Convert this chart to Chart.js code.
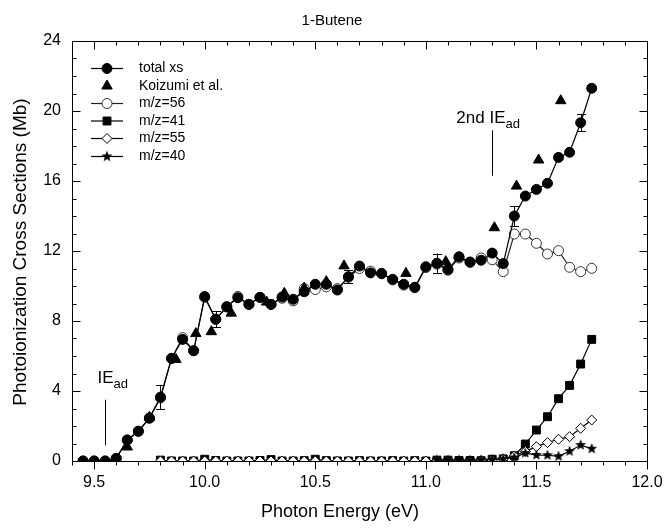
<!DOCTYPE html>
<html lang="en">
<head>
  <meta charset="UTF-8" />
  <title>1-Butene</title>
  <script src="https://cdn.jsdelivr.net/npm/chart.js"></script>
  <style>
    body { margin: 0; background: #fff; }
    canvas { display: block; }
  </style>
</head>
<body>
  <canvas id="chart" width="665" height="529"></canvas>
  <script>
    // photon energy grids (eV)
    const energyTotal = [9.45, 9.50, 9.55, 9.60, 9.65, 9.70, 9.75, 9.80, 9.85, 9.90, 9.95,
      10.00, 10.05, 10.10, 10.15, 10.20, 10.25, 10.30, 10.35, 10.40, 10.45, 10.50, 10.55,
      10.60, 10.65, 10.70, 10.75, 10.80, 10.85, 10.90, 10.95, 11.00, 11.05, 11.10, 11.15,
      11.20, 11.25, 11.30, 11.35, 11.40, 11.45, 11.50, 11.55, 11.60, 11.65, 11.70, 11.75];
    const energyFrag = [9.80, 9.85, 9.90, 9.95, 10.00, 10.05, 10.10, 10.15, 10.20, 10.25,
      10.30, 10.35, 10.40, 10.45, 10.50, 10.55, 10.60, 10.65, 10.70, 10.75, 10.80, 10.85,
      10.90, 10.95, 11.00, 11.05, 11.10, 11.15, 11.20, 11.25, 11.30, 11.35, 11.40, 11.45,
      11.50, 11.55, 11.60, 11.65, 11.70, 11.75];
    const energyM40 = [11.05, 11.10, 11.15, 11.20, 11.25, 11.30, 11.35, 11.40, 11.45,
      11.50, 11.55, 11.60, 11.65, 11.70, 11.75];

    // cross sections (Mb)
    const totalXs = [0.0, 0.0, 0.0, 0.15, 1.2, 1.7, 2.45, 3.65, 5.87, 6.95, 6.3,
      9.4, 8.1, 8.82, 9.33, 8.95, 9.35, 8.95, 9.37, 9.24, 9.67, 10.1, 10.1,
      9.77, 10.53, 11.14, 10.75, 10.72, 10.38, 10.1, 9.93, 11.1, 11.3, 10.95, 11.67,
      11.37, 11.47, 11.88, 11.28, 14.0, 15.14, 15.52, 15.87, 17.35, 17.64, 19.33, 21.3];
    const totalErrEnergy = [9.80, 10.05, 10.65, 11.05, 11.40, 11.70];
    const totalErr = [0.7, 0.45, 0.38, 0.55, 0.57, 0.5];

    const koizumiEnergy = [9.65, 9.75, 9.87, 9.96, 10.03, 10.12, 10.28, 10.36, 10.45,
      10.55, 10.63, 10.91, 11.09, 11.31, 11.41, 11.51, 11.61];
    const koizumiXs = [0.8, 2.5, 5.8, 7.28, 7.39, 8.45, 9.08, 9.58, 9.88,
      10.25, 11.15, 10.72, 11.39, 13.33, 15.71, 17.2, 20.59];

    const mz56 = [0.0, 0.0, 0.0, 0.15, 1.2, 1.7, 2.45, 3.6, 5.85, 7.05, 6.3,
      9.35, 8.1, 8.8, 9.4, 8.95, 9.35, 8.95, 9.3, 9.15, 9.85, 9.8, 9.95,
      9.85, 10.5, 11.0, 10.85, 10.7, 10.35, 10.05, 9.9, 11.05, 11.25, 10.9, 11.6,
      11.35, 11.6, 11.5, 10.82, 12.97, 12.97, 12.44, 11.83, 12.02, 11.07, 10.82, 11.01];
    const mz41 = [0.05, 0.0, 0.0, 0.0, 0.1, 0.03, 0.0, 0.0, 0.0, 0.03,
      0.08, 0.0, 0.0, 0.02, 0.1, 0.02, 0.0, 0.0, 0.02, 0.0, 0.0, 0.02,
      0.0, 0.02, 0.0, 0.05, 0.05, 0.03, 0.03, 0.02, 0.1, 0.12, 0.3, 0.97,
      1.77, 2.53, 3.56, 4.32, 5.54, 6.95];
    const mz55 = [0.0, 0.0, 0.0, 0.0, 0.0, 0.0, 0.0, 0.0, 0.0, 0.0,
      0.0, 0.0, 0.0, 0.0, 0.0, 0.0, 0.0, 0.0, 0.0, 0.0, 0.0, 0.0,
      0.0, 0.0, 0.0, 0.0, 0.0, 0.0, 0.0, 0.02, 0.05, 0.12, 0.29, 0.55,
      0.82, 1.05, 1.24, 1.39, 1.87, 2.34];
    const mz40 = [0.05, 0.05, 0.06, 0.05, 0.06, 0.08, 0.12, 0.2, 0.45,
      0.34, 0.33, 0.27, 0.56, 0.91, 0.7];

    const xTicks = [9.5, 10.0, 10.5, 11.0, 11.5, 12.0];
    const yTicks = [0, 4, 8, 12, 16, 20, 24];

    const FONT = 'Arial, "Liberation Sans", sans-serif';

    // filled five-pointed star used for m/z=40
    function makeStar(outer, inner) {
      const c = document.createElement('canvas');
      const s = Math.ceil(outer * 2 + 2);
      c.width = s; c.height = s;
      const g = c.getContext('2d');
      g.beginPath();
      for (let i = 0; i < 10; i++) {
        const r = i % 2 ? inner : outer;
        const a = -Math.PI / 2 + i * Math.PI / 5;
        g.lineTo(s / 2 + r * Math.cos(a), s / 2 + r * Math.sin(a));
      }
      g.closePath();
      g.fillStyle = '#000';
      g.fill();
      return c;
    }
    const starImg = makeStar(5.8, 2.4);

    const pts = (xs, ys) => xs.map((x, i) => ({ x: x, y: ys[i] }));

    // markers sitting on the axis get cut in half, so clip tight to the plot
    const datasets = [
      {
        label: 'total xs', data: pts(energyTotal, totalXs), order: 0, clip: 1,
        showLine: true, borderColor: '#000', borderWidth: 1.2,
        pointStyle: 'circle', pointRadius: 5, pointBackgroundColor: '#000',
        pointBorderColor: '#000', pointBorderWidth: 1
      },
      {
        label: 'Koizumi et al.', data: pts(koizumiEnergy, koizumiXs), order: 1, clip: 1,
        showLine: false, borderColor: '#000',
        pointStyle: 'triangle', pointRadius: 6, pointBackgroundColor: '#000',
        pointBorderColor: '#000', pointBorderWidth: 1
      },
      {
        label: 'm/z=56', data: pts(energyTotal, mz56), order: 4, clip: 1,
        showLine: true, borderColor: '#222', borderWidth: 1.2,
        pointStyle: 'circle', pointRadius: 5, pointBackgroundColor: '#fff',
        pointBorderColor: '#333', pointBorderWidth: 1
      },
      {
        label: 'm/z=41', data: pts(energyFrag, mz41), order: 5, clip: 1,
        showLine: true, borderColor: '#000', borderWidth: 1.2,
        pointStyle: 'rect', pointRadius: 5.6, pointBackgroundColor: '#000',
        pointBorderColor: '#000', pointBorderWidth: 1
      },
      {
        label: 'm/z=55', data: pts(energyFrag, mz55), order: 3, clip: 1,
        showLine: true, borderColor: '#000', borderWidth: 1.2,
        pointStyle: 'rectRot', pointRadius: 5, pointBackgroundColor: '#fff',
        pointBorderColor: '#000', pointBorderWidth: 1
      },
      {
        label: 'm/z=40', data: pts(energyM40, mz40), order: 2, clip: 1,
        showLine: true, borderColor: '#000', borderWidth: 1.2,
        pointStyle: starImg, pointRadius: 5, pointBackgroundColor: '#000',
        pointBorderColor: '#000', pointBorderWidth: 1
      }
    ];

    // frame, ticks, legend, error bars, labels
    const decorations = {
      id: 'decorations',
      afterDatasetsDraw(chart) {
        const ctx = chart.ctx;
        const xs = chart.scales.x, ys = chart.scales.y;
        const a = chart.chartArea;
        ctx.save();
        ctx.strokeStyle = '#000';
        ctx.fillStyle = '#000';
        ctx.lineWidth = 1;

        // error bars on total xs
        totalErrEnergy.forEach((e, i) => {
          const idx = energyTotal.indexOf(e);
          const px = Math.round(xs.getPixelForValue(e)) + 0.5;
          const top = ys.getPixelForValue(totalXs[idx] + totalErr[i]);
          const bot = ys.getPixelForValue(totalXs[idx] - totalErr[i]);
          ctx.beginPath();
          ctx.moveTo(px, top); ctx.lineTo(px, bot);
          ctx.moveTo(px - 4.5, Math.round(top) + 0.5); ctx.lineTo(px + 4.5, Math.round(top) + 0.5);
          ctx.moveTo(px - 4.5, Math.round(bot) + 0.5); ctx.lineTo(px + 4.5, Math.round(bot) + 0.5);
          ctx.stroke();
        });

        // frame
        const L = Math.round(a.left) + 0.5, R = Math.round(a.right) + 0.5;
        const T = Math.round(a.top) + 0.5, B = Math.round(a.bottom) + 0.5;
        ctx.strokeRect(L, T, R - L, B - T);

        // x ticks: outward on bottom, inward on top
        ctx.beginPath();
        for (let k = 94; k <= 120; k++) {
          const v = k / 10;
          const px = Math.round(xs.getPixelForValue(v)) + 0.5;
          const major = k % 5 === 0;
          const len = major ? 8 : 4;
          ctx.moveTo(px, B); ctx.lineTo(px, B + len);
          ctx.moveTo(px, T); ctx.lineTo(px, T + len);
        }
        // y ticks: inward on both sides
        for (let v = 0; v <= 24; v++) {
          const py = Math.round(ys.getPixelForValue(v)) + 0.5;
          const len = v % 4 === 0 ? 8 : 4;
          ctx.moveTo(L, py); ctx.lineTo(L + len, py);
          ctx.moveTo(R, py); ctx.lineTo(R - len, py);
        }
        ctx.stroke();

        // ionization energy markers
        const ieMarks = [
          { e: 9.55, lo: 0.9, hi: 3.5, text: 'IE', textY: 4.45, dx: -8, align: 'left' },
          { e: 11.30, lo: 16.3, hi: 18.9, text: '2nd IE', textY: 19.3, dx: 13, align: 'right' }
        ];
        ieMarks.forEach(m => {
          const px = Math.round(xs.getPixelForValue(m.e)) + 0.5;
          ctx.beginPath();
          ctx.moveTo(px, ys.getPixelForValue(m.lo));
          ctx.lineTo(px, ys.getPixelForValue(m.hi));
          ctx.stroke();
          const by = ys.getPixelForValue(m.textY);
          ctx.textBaseline = 'alphabetic';
          ctx.font = '17px ' + FONT;
          const w = ctx.measureText(m.text).width;
          ctx.textAlign = 'left';
          const tx = m.align === 'left' ? px + m.dx : px + m.dx - w;
          ctx.fillText(m.text, tx, by);
          ctx.font = '13px ' + FONT;
          ctx.fillText('ad', tx + w, by + 5);
        });

        // legend
        const rowY = [68.5, 86, 103.5, 121, 138.5, 156.5];
        chart.data.datasets.forEach((ds, i) => {
          const y = rowY[i];
          if (ds.showLine) {
            ctx.beginPath();
            ctx.lineWidth = ds.borderWidth;
            ctx.strokeStyle = ds.borderColor;
            ctx.moveTo(91, y); ctx.lineTo(123, y);
            ctx.stroke();
          }
          ctx.lineWidth = ds.pointBorderWidth;
          ctx.strokeStyle = ds.pointBorderColor;
          ctx.fillStyle = ds.pointBackgroundColor;
          Chart.helpers.drawPoint(ctx, {
            pointStyle: ds.pointStyle, radius: ds.pointRadius, rotation: 0,
            borderWidth: ds.pointBorderWidth
          }, 107, y);
          ctx.fillStyle = '#000';
          ctx.font = '14px ' + FONT;
          ctx.textAlign = 'left';
          ctx.textBaseline = 'middle';
          ctx.fillText(ds.label, 139, y);
        });

        // titles
        ctx.fillStyle = '#000';
        ctx.textAlign = 'center';
        ctx.textBaseline = 'middle';
        ctx.font = '15px ' + FONT;
        ctx.fillText('1-Butene', 332, 21);
        ctx.font = '18px ' + FONT;
        ctx.fillText('Photon Energy (eV)', 340, 512);
        ctx.font = '19px ' + FONT;
        ctx.translate(21, (a.top + a.bottom) / 2 + 1);
        ctx.rotate(-Math.PI / 2);
        ctx.fillText('Photoionization Cross Sections (Mb)', 0, 0);
        ctx.restore();
      }
    };

    new Chart(document.getElementById('chart'), {
      type: 'scatter',
      data: { datasets: datasets },
      options: {
        responsive: false,
        devicePixelRatio: 1,
        animation: false,
        layout: { padding: { left: 0, right: 18, top: 41, bottom: 0 } },
        plugins: { legend: { display: false }, tooltip: { enabled: false }, title: { display: false } },
        scales: {
          x: {
            type: 'linear', min: 9.4, max: 12.0,
            afterFit: s => { s.height = 68; s.paddingLeft = 0; s.paddingRight = 0; },
            afterBuildTicks: s => { s.ticks = xTicks.map(v => ({ value: v })); },
            grid: { display: false, drawTicks: true, tickLength: 0 },
            border: { display: false },
            ticks: {
              padding: 12, color: '#000', maxRotation: 0, autoSkip: false,
              font: { family: FONT, size: 16 },
              callback: v => Number(v).toFixed(1)
            }
          },
          y: {
            type: 'linear', min: 0, max: 24,
            afterFit: s => { s.width = 72; s.paddingTop = 0; s.paddingBottom = 0; },
            afterBuildTicks: s => { s.ticks = yTicks.map(v => ({ value: v })); },
            grid: { display: false, drawTicks: true, tickLength: 0 },
            border: { display: false },
            ticks: {
              padding: 11, color: '#000', autoSkip: false,
              font: { family: FONT, size: 16 },
              callback: v => String(v)
            }
          }
        }
      },
      plugins: [decorations]
    });
  </script>
</body>
</html>
